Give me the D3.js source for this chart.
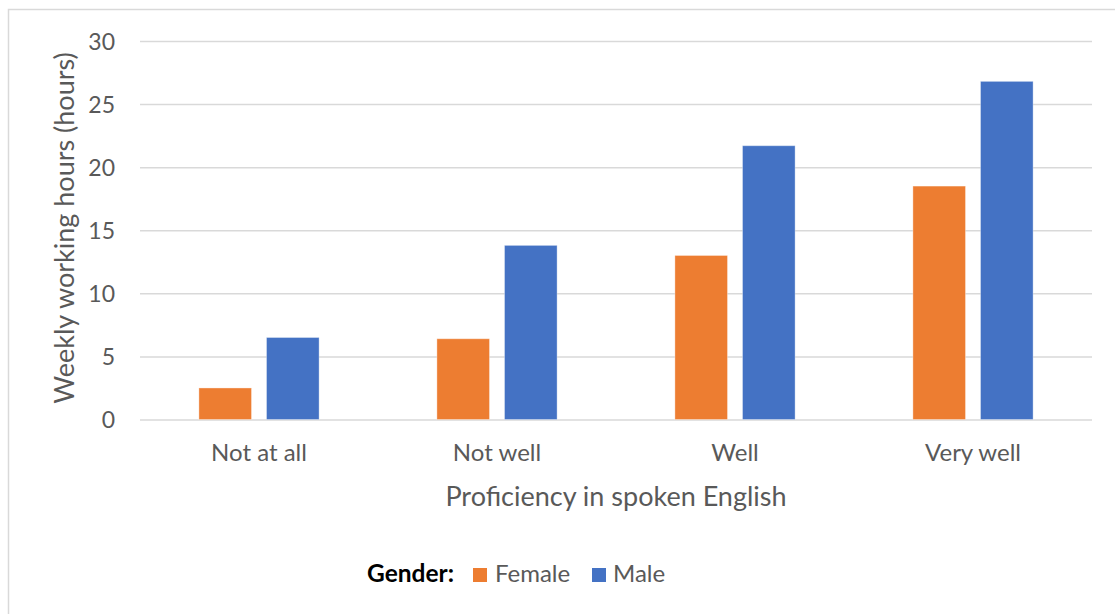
<!DOCTYPE html>
<html>
<head>
<meta charset="utf-8">
<script src="https://cdn.jsdelivr.net/npm/d3@7"></script>
<style>
  html, body { margin: 0; padding: 0; background: #fff; }
  svg { display: block; font-family: Lato, "Open Sans", sans-serif; }
</style>
</head>
<body>
<svg id="chart" width="1115" height="614"></svg>
<script>
// Weekly working hours by spoken-English proficiency and gender
const categories = ["Not at all", "Not well", "Well", "Very well"];
const seriesNames = ["Female", "Male"];
const femaleHours = [2.5, 6.4, 13.0, 18.5];
const maleHours = [6.5, 13.8, 21.7, 26.8];
const yTicks = [0, 5, 10, 15, 20, 25, 30];
const colors = { Female: "#ED7D31", Male: "#4472C4" };

const svg = d3.select("#chart");
const W = 1115, H = 614;
const plot = { left: 140, right: 1092, top: 41, bottom: 419.5 };
const textColor = "#595959";

// outer chart frame (top and left edges visible)
svg.append("path")
  .attr("d", `M8.5,${H} V9.5 H${W}`)
  .attr("fill", "none")
  .attr("stroke", "#d9d9d9")
  .attr("stroke-width", 1.5);

const x0 = d3.scaleBand().domain(categories).range([plot.left, plot.right]).paddingInner(0).paddingOuter(0);
const y = d3.scaleLinear().domain([0, 30]).range([plot.bottom, plot.top]);

const barW = x0.bandwidth() * 0.221;
const gap = 15;
const x1 = d3.scaleOrdinal().domain(seriesNames).range([-(gap / 2) - barW, gap / 2]);

// gridlines and value labels
const yAxis = d3.axisLeft(y).tickValues(yTicks).tickSize(-(plot.right - plot.left)).tickPadding(25);
const gy = svg.append("g").attr("transform", `translate(${plot.left},0)`).call(yAxis);
gy.select(".domain").remove();
gy.selectAll(".tick line").attr("stroke", "#d9d9d9").attr("stroke-width", 1.5);
gy.selectAll(".tick text")
  .attr("fill", textColor)
  .attr("font-size", 23)
  .attr("font-family", "Lato, sans-serif")
  .attr("dy", "0.36em");

// bars
const rows = categories.map((c, i) => ({ category: c, Female: femaleHours[i], Male: maleHours[i] }));
const groups = svg.append("g").selectAll("g")
  .data(rows).join("g")
  .attr("transform", d => `translate(${x0(d.category) + x0.bandwidth() / 2},0)`);

groups.selectAll("rect")
  .data(d => seriesNames.map(k => ({ key: k, value: d[k] })))
  .join("rect")
  .attr("x", d => x1(d.key))
  .attr("y", d => y(d.value))
  .attr("width", barW)
  .attr("height", d => y(0) - y(d.value))
  .attr("fill", d => colors[d.key])
  .attr("stroke", "#ffffff")
  .attr("stroke-opacity", 0.35)
  .attr("stroke-width", 1);

// category axis labels
const xAxis = d3.axisBottom(x0).tickSize(0).tickPadding(24);
const gx = svg.append("g").attr("transform", `translate(0,${plot.bottom})`).call(xAxis);
gx.select(".domain").remove();
gx.selectAll(".tick text")
  .attr("fill", textColor)
  .attr("font-size", 24)
  .attr("font-family", "Lato, sans-serif");

// axis titles
svg.append("text")
  .attr("x", (plot.left + plot.right) / 2)
  .attr("y", 506)
  .attr("text-anchor", "middle")
  .attr("fill", textColor)
  .attr("font-size", 27)
  .text("Proficiency in spoken English");

svg.append("text")
  .attr("transform", `translate(74,228) rotate(-90)`)
  .attr("text-anchor", "middle")
  .attr("fill", textColor)
  .attr("font-size", 27)
  .text("Weekly working hours (hours)");

// legend
const legend = svg.append("g").attr("transform", "translate(0,582)");
legend.append("text")
  .attr("x", 367)
  .attr("y", 0)
  .attr("font-weight", "bold")
  .attr("fill", "#000")
  .attr("font-size", 24.5)
  .text("Gender:");

const legendItems = [
  { key: "Female", sx: 473, tx: 495 },
  { key: "Male", sx: 592, tx: 613 }
];
legendItems.forEach(it => {
  legend.append("rect")
    .attr("x", it.sx).attr("y", -14)
    .attr("width", 14).attr("height", 14)
    .attr("fill", colors[it.key]);
  legend.append("text")
    .attr("x", it.tx).attr("y", 0)
    .attr("fill", textColor)
    .attr("font-size", 24)
    .text(it.key);
});
</script>
</body>
</html>
